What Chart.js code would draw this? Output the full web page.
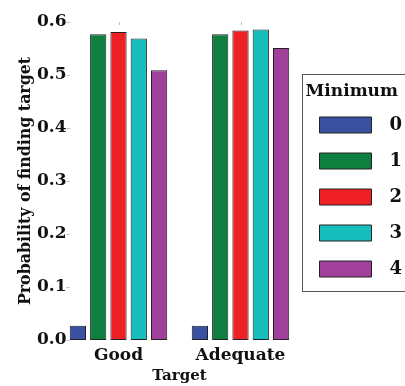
<!DOCTYPE html>
<html>
<head>
<meta charset="utf-8">
<script src="https://cdn.jsdelivr.net/npm/chart.js"></script>
<style>
  html, body { margin: 0; padding: 0; background: #fff; overflow: hidden; }
  #wrap { width: 405px; height: 386px; }
</style>
</head>
<body>
<div id="wrap"><canvas id="chart"></canvas></div>
<script>
const targets = ['Good', 'Adequate'];
const minimums = ['0', '1', '2', '3', '4'];
const min0 = [0.027, 0.027];
const min1 = [0.577, 0.577];
const min2 = [0.581, 0.584];
const min3 = [0.569, 0.586];
const min4 = [0.509, 0.551];
const yTicks = [0.0, 0.1, 0.2, 0.3, 0.4, 0.5, 0.6];
const colors = ['#3a50a0', '#0f7f3f', '#ee1f25', '#17bcbc', '#a0409a'];

Chart.defaults.font.family = "'DejaVu Serif', 'Liberation Serif', serif";
Chart.defaults.font.weight = 'bold';
Chart.defaults.color = '#111';

const series = [min0, min1, min2, min3, min4];

// border round the legend and the small grey tick marks
const extras = {
    id: 'extras',
    afterDraw(chart) {
        const ctx = chart.ctx;
        const lg = chart.legend;
        const hb = lg.legendHitBoxes;
        if (hb && hb.length) {
            const top = hb[0].top - 42;
            const bottom = hb[hb.length - 1].top + hb[hb.length - 1].height + 13;
            ctx.save();
            ctx.strokeStyle = '#555';
            ctx.lineWidth = 1;
            ctx.strokeRect(Math.round(lg.left) + 0.5, top + 0.5, 120, bottom - top);
            ctx.restore();
        }
        const y = chart.scales.y, x = chart.scales.x;
        const bar = chart.getDatasetMeta(0).data[0];
        const left = bar.x - bar.width / 2 - 3;
        ctx.save();
        ctx.strokeStyle = '#bbb';
        ctx.lineWidth = 1;
        ctx.beginPath();
        yTicks.forEach(v => {
            const py = Math.round(y.getPixelForValue(v)) + 0.5;
            ctx.moveTo(left, py);
            ctx.lineTo(left + 3, py);
        });
        targets.forEach((t, i) => {
            const px = Math.round(x.getPixelForValue(i)) + 0.5;
            ctx.moveTo(px, chart.chartArea.top);
            ctx.lineTo(px, chart.chartArea.top + 3);
        });
        ctx.stroke();
        ctx.restore();
    }
};

new Chart(document.querySelector('#chart'), {
    type: 'bar',
    data: {
        labels: targets,
        datasets: series.map((vals, i) => ({
            label: minimums[i],
            data: vals,
            backgroundColor: colors[i],
            borderColor: '#222',
            borderWidth: 1,
            borderSkipped: false,
            categoryPercentage: 0.832,
            barPercentage: 0.8,
        })),
    },
    options: {
        responsive: true,
        maintainAspectRatio: false,
        animation: false,
        devicePixelRatio: 1,
        layout: { padding: { top: 22, right: 3, bottom: 0, left: 0 } },
        plugins: {
            tooltip: { enabled: false },
            legend: {
                position: 'right',
                align: 'start',
                title: {
                    display: true,
                    text: 'Minimum',
                    font: { size: 17, weight: 'bold', lineHeight: 1 },
                    padding: { top: 61, bottom: -2 },
                },
                labels: {
                    boxWidth: 52,
                    boxHeight: 16,
                    padding: 18,
                    textAlign: 'right',
                    font: { size: 18, weight: 'bold' },
                },
            },
        },
        scales: {
            x: {
                grid: { display: false, drawTicks: false },
                border: { display: false },
                ticks: { padding: 5, font: { size: 17 } },
                title: { display: true, text: 'Target', font: { size: 15 }, padding: { top: 0, bottom: 1 } },
                afterFit: s => { s.height = 46; },
            },
            y: {
                min: 0,
                max: 0.6,
                grid: { display: false, drawTicks: false },
                border: { display: false },
                ticks: { stepSize: 0.1, mirror: true, padding: -20.5, font: { size: 17 }, callback: v => v.toFixed(1) },
                title: { display: true, text: 'Probability of finding target', font: { size: 15.8 }, padding: { top: 16, bottom: 0 } },
                afterFit: s => { s.width = 57.5; },
            },
        },
    },
    plugins: [extras],
});
</script>
</body>
</html>
